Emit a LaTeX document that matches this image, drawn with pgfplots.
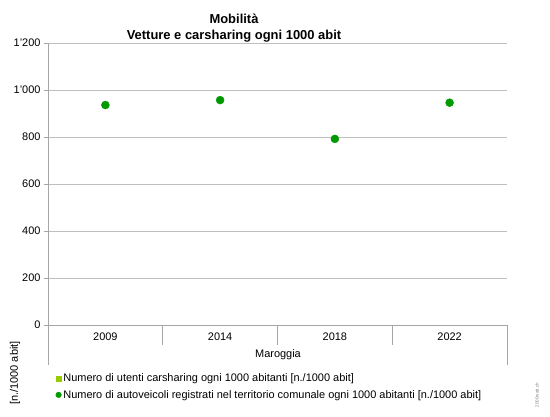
\documentclass[border=0pt]{standalone}
\usepackage{fontspec}
\setmainfont{Liberation Sans}
\usepackage{pgfplots}
\pgfplotsset{compat=1.18}
\definecolor{gridgray}{HTML}{BFBFBF}
\definecolor{axgray}{HTML}{A6A6A6}
\definecolor{dotgreen}{HTML}{009900}
\definecolor{csgreen}{HTML}{99CC00}
\begin{document}
\begin{tikzpicture}
\begin{axis}[
  at={(0,0)}, anchor=south west,
  scale only axis, width=459bp, height=282bp,
  xmin=-0.5, xmax=3.5, ymin=0, ymax=1200,
  axis x line=bottom, axis y line=left,
  axis line style={axgray, line width=0.8pt, -},
  xtick={0,1,2,3}, xticklabels={2009,2014,2018,2022},
  major x tick style={draw=none},
  xticklabel style={yshift=-0.5bp},
  ytick={0,200,...,1200},
  ytick style={axgray, line width=0.8pt},
  tick align=outside, major tick length=4bp,
  ymajorgrids, grid style={gridgray, line width=0.8pt},
  /pgf/number format/.cd, set thousands separator={'}, assume math mode=true,
  /pgfplots/.cd,
  tick label style={font=\fontsize{11}{13}\selectfont},
  legend style={at={(0.01,-0.158)}, anchor=north west, draw=none, fill=none,
    font=\fontsize{11}{13}\selectfont, row sep=3bp,
    /tikz/every even column/.append style={column sep=0bp}},
  legend cell align=left,
  legend image code/.code={\draw[#1] plot coordinates {(0.1cm,0cm)};},
]
\addlegendimage{only marks, mark=square*, mark size=2.5bp, csgreen}
\addlegendentry{Numero di utenti carsharing ogni 1000 abitanti [n./1000 abit]}
\addplot[only marks, mark=*, mark size=4bp, dotgreen, forget plot] coordinates {(0,936) (1,957) (2,792) (3,946)};
\addlegendimage{only marks, mark=*, mark size=2.8bp, dotgreen}
\addlegendentry{Numero di autoveicoli registrati nel territorio comunale ogni 1000 abitanti [n./1000 abit]}
\end{axis}
\draw[axgray, line width=0.8pt] (0,0) -- (0,-40bp);
\draw[axgray, line width=0.8pt] (459bp,0) -- (459bp,-40bp);
\foreach \x in {114.75,229.5,344.25}
  \draw[axgray, line width=0.8pt] (\x bp,0) -- (\x bp,-20bp);
\node[font=\fontsize{11}{13}\selectfont] at (230bp,-30bp) {Maroggia};
\node[rotate=90, font=\fontsize{11}{13}\selectfont] at (-33bp,-48bp) {[n./1000 abit]};
\node[rotate=90, font=\fontsize{4.5}{5}\selectfont, text=gray] at (489bp,-70bp) {2000watt.ch};
\node[font=\bfseries\fontsize{13}{15.5}\selectfont, align=center] at (186bp,297bp) {Mobilità\\Vetture e carsharing ogni 1000 abit};
\pgfresetboundingbox
\path[use as bounding box] (-48bp,-92bp) rectangle (502bp,325bp);
\end{tikzpicture}
\end{document}
